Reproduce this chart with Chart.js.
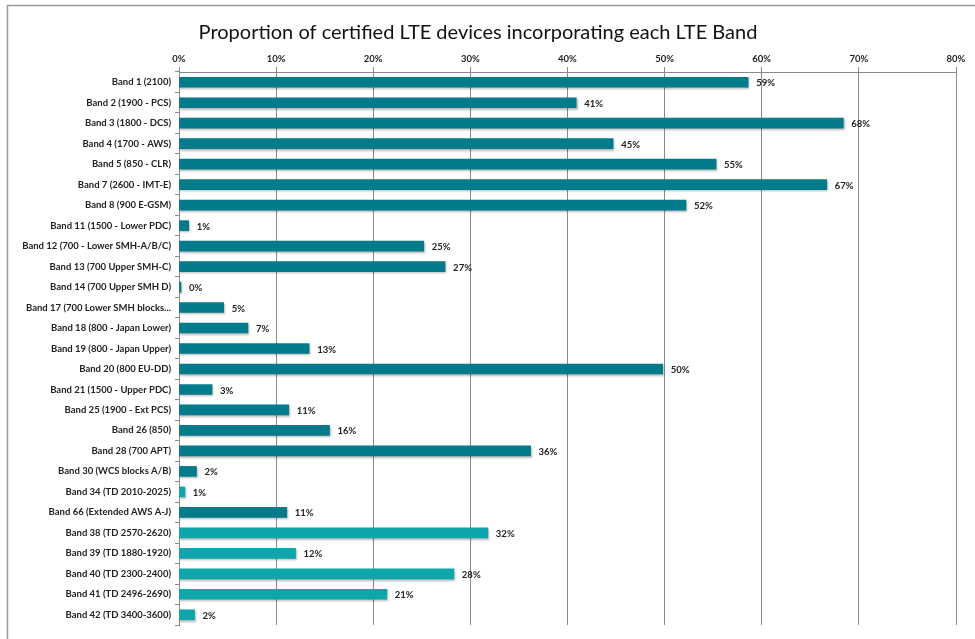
<!DOCTYPE html>
<html>
<head>
<meta charset="utf-8">
<script src="https://cdn.jsdelivr.net/npm/chart.js@4/dist/chart.umd.min.js"></script>
<style>
  html, body { margin: 0; padding: 0; background: #fff; }
  #wrap { width: 975px; height: 639px; position: relative; }
</style>
</head>
<body>
<div id="wrap"><canvas id="c" width="975" height="639"></canvas></div>
<script>
const chartTitle = 'Proportion of certified LTE devices incorporating each LTE Band';
const bands = [
  'Band 1 (2100)', 'Band 2 (1900 - PCS)', 'Band 3 (1800 - DCS)', 'Band 4 (1700 - AWS)',
  'Band 5 (850 - CLR)', 'Band 7 (2600 - IMT-E)', 'Band 8 (900 E-GSM)', 'Band 11 (1500 - Lower PDC)',
  'Band 12 (700 - Lower SMH-A/B/C)', 'Band 13 (700 Upper SMH-C)', 'Band 14 (700 Upper SMH D)',
  'Band 17 (700 Lower SMH blocks...', 'Band 18 (800 - Japan Lower)', 'Band 19 (800 - Japan Upper)',
  'Band 20 (800 EU-DD)', 'Band 21 (1500 - Upper PDC)', 'Band 25 (1900 - Ext PCS)', 'Band 26 (850)',
  'Band 28 (700 APT)', 'Band 30 (WCS blocks A/B)', 'Band 34 (TD 2010-2025)', 'Band 66 (Extended AWS A-J)',
  'Band 38 (TD 2570-2620)', 'Band 39 (TD 1880-1920)', 'Band 40 (TD 2300-2400)', 'Band 41 (TD 2496-2690)',
  'Band 42 (TD 3400-3600)'
];
const shares = [
  58.6, 40.9, 68.4, 44.7, 55.3, 66.7, 52.2, 1.0,
  25.2, 27.4, 0.2, 4.6, 7.1, 13.4,
  49.8, 3.4, 11.3, 15.5, 36.2, 1.8, 0.6, 11.1,
  31.8, 12.0, 28.3, 21.4, 1.6
];
const xTicks = [0, 10, 20, 30, 40, 50, 60, 70, 80];

const FDD_COLOR = '#047b8b';
const TDD_COLOR = '#0ea6ab';
const barColors = bands.map(b => b.includes('(TD ') ? TDD_COLOR : FDD_COLOR);

const bgPlugin = {
  id: 'bg',
  beforeDraw(chart) {
    const ctx = chart.ctx;
    ctx.save();
    ctx.fillStyle = '#fff';
    ctx.fillRect(0, 0, chart.width, chart.height);
    ctx.strokeStyle = '#9a9a9a';
    ctx.lineWidth = 1.5;
    ctx.strokeRect(7.5, 5.5, chart.width, chart.height - 3);
    ctx.restore();
  }
};

const shadowPlugin = {
  id: 'shadow',
  beforeDatasetsDraw(chart) {
    const ctx = chart.ctx;
    ctx.save();
    ctx.shadowColor = 'rgba(0,0,0,0.28)';
    ctx.shadowBlur = 2;
    ctx.shadowOffsetX = 1;
    ctx.shadowOffsetY = 1.5;
  },
  afterDatasetsDraw(chart) {
    chart.ctx.restore();
  }
};

const valueLabels = {
  id: 'valueLabels',
  afterDatasetsDraw(chart) {
    const ctx = chart.ctx;
    const meta = chart.getDatasetMeta(0);
    ctx.save();
    ctx.font = 'bold 9.5px Lato, "Open Sans", sans-serif';
    ctx.fillStyle = '#222';
    ctx.textAlign = 'left';
    ctx.textBaseline = 'middle';
    meta.data.forEach((el, i) => {
      const v = chart.data.datasets[0].data[i];
      ctx.fillText(Math.round(v) + '%', el.x + 8, el.y + 1);
    });
    ctx.restore();
  }
};

new Chart(document.getElementById('c'), {
  type: 'bar',
  data: {
    labels: bands,
    datasets: [{
      data: shares,
      backgroundColor: barColors,
      borderWidth: 0,
      barThickness: 10
    }]
  },
  options: {
    indexAxis: 'y',
    responsive: false,
    animation: false,
    devicePixelRatio: 1,
    layout: { padding: { left: 0, right: 19, top: 0, bottom: 14 } },
    plugins: {
      legend: { display: false },
      tooltip: { enabled: false },
      title: {
        display: true,
        text: chartTitle,
        color: '#111',
        font: { family: 'Lato, "Open Sans", sans-serif', size: 20, weight: 'normal' },
        padding: { top: 21, bottom: 10 }
      }
    },
    scales: {
      x: {
        position: 'top',
        min: 0,
        max: 80,
        afterBuildTicks(scale) { scale.ticks = xTicks.map(v => ({ value: v })); },
        afterFit(scale) { scale.height = 17; },
        ticks: {
          color: '#222',
          padding: 2,
          font: { family: 'Lato, "Open Sans", sans-serif', size: 9.5, weight: 'bold' },
          callback: v => v + '%'
        },
        grid: { color: '#8a8a8a', lineWidth: 1, tickLength: 5 },
        border: { color: '#8a8a8a' }
      },
      y: {
        afterFit(scale) { scale.width = 179; },
        ticks: {
          color: '#222',
          padding: 4,
          font: { family: 'Lato, "Open Sans", sans-serif', size: 9.5, weight: 'bold' },
          autoSkip: false
        },
        grid: { offset: true, drawOnChartArea: false, color: '#8a8a8a', tickLength: 4 },
        border: { color: '#8a8a8a' }
      }
    }
  },
  plugins: [bgPlugin, shadowPlugin, valueLabels]
});
</script>
</body>
</html>
